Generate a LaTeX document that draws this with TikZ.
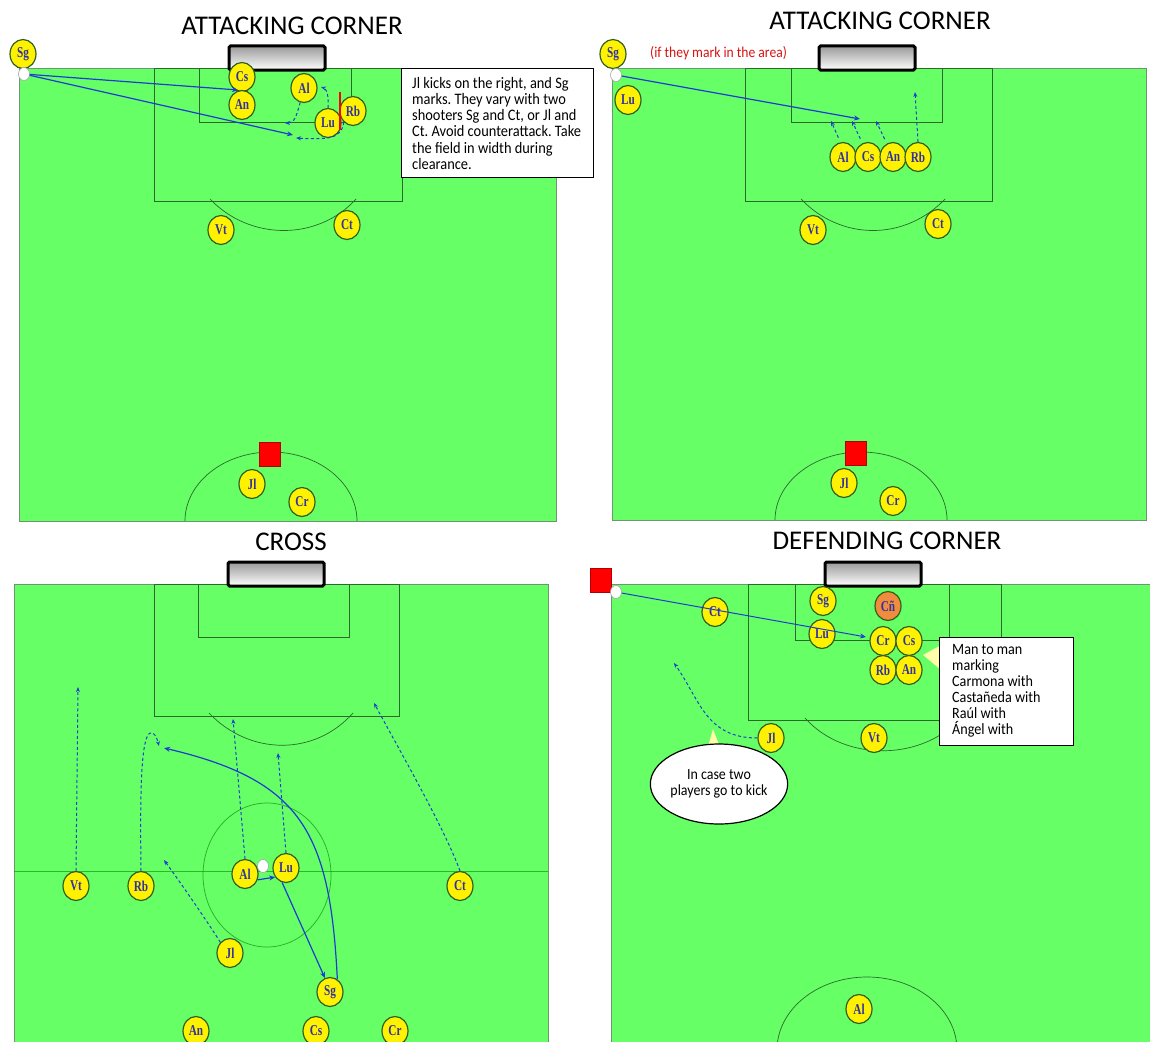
\documentclass[tikz,border=0pt]{standalone}
\usepackage{fontspec}
\setmainfont{Liberation Serif}
\newfontfamily\notefont[FakeStretch=0.9]{Carlito}
\newfontfamily\titlefont{Carlito}
\newfontfamily\playerfont[FakeStretch=0.75]{Liberation Serif}
\usetikzlibrary{shapes.geometric,arrows.meta}
\definecolor{fieldgreen}{RGB}{102,255,102}
\definecolor{fieldedge}{RGB}{110,150,110}
\definecolor{pline}{RGB}{45,105,45}
\definecolor{pborder}{RGB}{50,95,30}
\definecolor{ptext}{RGB}{50,50,160}
\definecolor{arrowblue}{RGB}{30,60,210}
\definecolor{noteyellow}{RGB}{255,255,170}
\definecolor{orangep}{RGB}{240,140,60}
\definecolor{redtxt}{RGB}{215,20,20}
\frenchspacing
\begin{document}
\begin{tikzpicture}[x=1pt,y=-1pt,
 player/.style={ellipse, minimum width=26pt, minimum height=29pt, inner sep=0pt, fill=yellow, draw=pborder, line width=1.2pt, text=ptext, font=\playerfont\fontsize{15}{15}\selectfont\bfseries},
 ball/.style={ellipse, minimum width=11pt, minimum height=13pt, inner sep=0pt, fill=white, draw=gray!70, line width=0.6pt},
 field/.style={fill=fieldgreen, draw=fieldedge, line width=0.9pt},
 pitchline/.style={draw=pline, line width=0.7pt},
 goalbox/.style={rectangle, rounded corners=1.5pt, draw=black, line width=3pt, top color=gray!80, bottom color=white, minimum width=96pt, minimum height=24pt, inner sep=0pt},
 titletext/.style={font=\titlefont\fontsize{27}{27}\selectfont},
 pass/.style={draw=arrowblue, line width=1.2pt, -{Stealth[length=6pt,width=5pt]}},
 run/.style={draw=arrowblue, line width=1pt, dash pattern=on 3pt off 2.5pt, -{Stealth[length=5pt,width=4pt]}},
 redsq/.style={rectangle, fill=red, draw=red!70!black, line width=0.5pt, minimum width=21pt, minimum height=24pt, inner sep=0pt},
 notebox/.style={rectangle, draw=black, line width=1.2pt, fill=white, inner sep=0pt},
 notetext/.style={align=left, inner sep=0pt, font=\notefont\fontsize{16}{16.2}\selectfont}
]
\useasboundingbox (0,0) rectangle (1150,1041);
\fill[white] (0,0) rectangle (1150,1041);

%%%%%%%%%%%%%%%% PANEL 1 : ATTACKING CORNER (top left)
\node[titletext] (t1) at (292,26) {ATTACKING CORNER};
\draw[field] (19,68) rectangle (556,521);
\draw[pitchline] (154,68) rectangle (402,201);
\draw[pitchline] (199,68) rectangle (351,122);
\draw[pitchline] (210,199) .. controls (250,241) and (318,241) .. (356,199);
\draw[pitchline] (185,521) arc[start angle=180, end angle=360, x radius=86, y radius=69];
\node[goalbox] (g1) at (277,58) {};
\node[redsq] (r1) at (270,454) {};

\node[player] (a1Sg) at (23,54) {Sg};
\node[ball] (a1ball) at (24,74) {};
\node[player] (a1Cs) at (242,77) {Cs};
\node[player] (a1An) at (242,105) {An};
\node[player] (a1Al) at (304,88) {Al};
\node[player] (a1Lu) at (328,123) {Lu};
\node[player] (a1Rb) at (353,111) {Rb};
\node[player] (a1Vt) at (221,230) {Vt};
\node[player] (a1Ct) at (347,225) {Ct};
\node[player] (a1Jl) at (252,484) {Jl};
\node[player] (a1Cr) at (302,502) {Cr};

\coordinate (a1p1) at (238,90);
\coordinate (a1p2) at (293,135);
\coordinate (a1d1) at (285,123);
\coordinate (a1d2) at (321,87);
\coordinate (a1d3) at (296,138);
\draw[pass] (a1ball) -- (a1p1);
\draw[pass] (a1ball) -- (a1p2);
\draw[run] (a1Al.-105) .. controls (296,118) and (294,123) .. (a1d1);
\draw[run] (a1Lu.north) .. controls (329,98) and (327,89) .. (a1d2);
\draw[run] (a1Rb.-130) .. controls (342,138) and (330,140) .. (a1d3);
\draw[red, line width=2.5pt] (340,92) -- (340,130);

\node[notebox, minimum width=192pt, minimum height=109pt, anchor=north west] (n1) at (401,68) {};
\node[notetext, anchor=north west] (n1t) at (412,77)
 {Jl kicks on the right, and Sg\\marks. They vary with two\\shooters Sg and Ct, or Jl and\\Ct. Avoid counterattack. Take\\the field in width during\\clearance.};

%%%%%%%%%%%%%%%% PANEL 2 : ATTACKING CORNER (top right)
\node[titletext] (t2) at (880,21) {ATTACKING CORNER};
\draw[field] (612,68) rectangle (1146,520);
\draw[pitchline] (745,68) rectangle (992,201);
\draw[pitchline] (791,68) rectangle (942,122);
\draw[pitchline] (801,199) .. controls (841,241) and (905,241) .. (945,199);
\draw[pitchline] (775,520) arc[start angle=180, end angle=360, x radius=86, y radius=68];
\node[goalbox] (g2) at (867,58) {};
\node[redsq] (r2) at (856,453) {};
\node[notetext, font=\notefont\fontsize{15.1}{16}\selectfont, text=redtxt, anchor=west] (rt2) at (650,53) {(if they mark in the area)};

\node[player] (b2Sg) at (613,54) {Sg};
\node[ball] (b2ball) at (616,75) {};
\node[player] (b2Lu) at (628,100) {Lu};
\node[player] (b2Al) at (843,157) {Al};
\node[player] (b2Cs) at (868,157) {Cs};
\node[player] (b2An) at (893,157) {An};
\node[player] (b2Rb) at (918,157) {Rb};
\node[player] (b2Vt) at (813,230) {Vt};
\node[player] (b2Ct) at (938,224) {Ct};
\node[player] (b2Jl) at (844,483) {Jl};
\node[player] (b2Cr) at (893,501) {Cr};

\coordinate (b2p1) at (860,119);
\coordinate (b2d1) at (831,121);
\coordinate (b2d2) at (852,121);
\coordinate (b2d3) at (876,121);
\coordinate (b2d4) at (915,92);
\draw[pass] (b2ball) -- (b2p1);
\draw[run, shorten <=5pt] (b2Al.100) -- (b2d1);
\draw[run, shorten <=5pt] (b2Cs.112) -- (b2d2);
\draw[run, shorten <=5pt] (b2An.115) -- (b2d3);
\draw[run] (b2Rb.north) -- (b2d4);

%%%%%%%%%%%%%%%% PANEL 3 : CROSS (bottom left)
\node[titletext] (t3) at (291,542) {CROSS};
\draw[field] (14,584) rectangle (548,1045);
\draw[pitchline] (154,584) rectangle (399,716);
\draw[pitchline] (198,584) rectangle (349,637);
\draw[pitchline] (209,713) .. controls (250,756) and (315,756) .. (353,713);
\draw[draw=green!55!black, line width=1pt, opacity=0.6] (14,871) -- (548,871);
\draw[draw=green!45!black, line width=0.7pt, opacity=0.6] (267,875) ellipse[x radius=64, y radius=72];
\node[goalbox] (g3) at (276,574) {};

\node[player] (c3Vt) at (76,886) {Vt};
\node[player] (c3Rb) at (141,886) {Rb};
\node[player] (c3Al) at (245,874) {Al};
\node[ball] (c3ball) at (263,866) {};
\node[player] (c3Lu) at (286,868) {Lu};
\node[player] (c3Ct) at (460,886) {Ct};
\node[player] (c3Jl) at (230,953) {Jl};
\node[player] (c3Sg) at (330,992) {Sg};
\node[player] (c3An) at (196,1031) {An};
\node[player] (c3Cs) at (316,1031) {Cs};
\node[player] (c3Cr) at (395,1031) {Cr};

\coordinate (c3d1) at (78,687);
\coordinate (c3d2) at (159,746);
\coordinate (c3d3) at (233,719);
\coordinate (c3d4) at (278,753);
\coordinate (c3d5) at (374,703);
\coordinate (c3d6) at (164,860);
\coordinate (c3p1) at (164,748);
\draw[run] (c3Vt.north) -- (c3d1);
\draw[run] (c3Rb.north) .. controls (140,790) and (141,738) .. (150,733) .. controls (154,731) and (157,738) .. (c3d2);
\draw[run] (c3Al.north) -- (c3d3);
\draw[run] (c3Lu.north) -- (c3d4);
\draw[run] (c3Ct.north) .. controls (445,830) and (405,760) .. (c3d5);
\draw[run] (c3Jl.north west) .. controls (205,918) and (180,882) .. (c3d6);
\draw[pass] (c3Al.-25) -- (c3Lu.-140);
\draw[pass] (c3Lu.-105) -- (c3Sg.110);
\draw[pass] (c3Sg.60) .. controls (330,830) and (300,780) .. (c3p1);

%%%%%%%%%%%%%%%% PANEL 4 : DEFENDING CORNER (bottom right)
\node[titletext] (t4) at (887,541) {DEFENDING CORNER};
\draw[field] (611,584) rectangle (1155,1045);
\draw[pitchline] (748,584) rectangle (1001,720);
\draw[pitchline] (795,584) rectangle (949,640);
\draw[pitchline] (805,718) .. controls (845,763) and (925,761) .. (962,716);
\draw[pitchline] (867,1050) ellipse[x radius=90, y radius=73];
\node[goalbox] (g4) at (873,574) {};
\node[redsq] (r4) at (601,580) {};

\node[ball] (d4ball) at (616,592) {};
\node[player] (d4Ct) at (715,612) {Ct};
\node[player] (d4Sg) at (823,601) {Sg};
\node[player, fill=orangep] (d4Cn) at (888,606) {Cñ};
\node[player] (d4Lu) at (822,634) {Lu};
\node[player] (d4Cr) at (883,641) {Cr};
\node[player] (d4Cs) at (909,641) {Cs};
\node[player] (d4Rb) at (883,670) {Rb};
\node[player] (d4An) at (909,670) {An};
\node[player] (d4Jl) at (771,738) {Jl};
\node[player] (d4Vt) at (874,738) {Vt};
\node[player] (d4Al) at (859,1009) {Al};

\coordinate (d4p1) at (866,637);
\coordinate (d4d1) at (674,663);
\draw[pass, line width=1pt] (d4ball) -- (d4p1);
\draw[run] (d4Jl.west) .. controls (706,738) and (700,700) .. (d4d1);

% speech bubble
\fill[noteyellow] (713,729) -- (707,750) -- (721,750) -- cycle;
\node[ellipse, draw=black, line width=1.2pt, fill=white, minimum width=129pt, minimum height=80pt, inner sep=0pt, align=center, font=\notefont\fontsize{15.5}{16.2}\selectfont] (bub) at (719,784) {In case two\\players go to kick};

% marking note
\fill[noteyellow] (923,655) -- (941,645) -- (941,670) -- cycle;
\node[notebox, minimum width=134pt, minimum height=108pt, anchor=north west] (n4) at (939,637) {};
\node[notetext, font=\notefont\fontsize{15.7}{16}\selectfont, anchor=north west] (n4t) at (952,644)
 {Man to man\\marking\\Carmona with\\Castañeda with\\Raúl with\\Ángel with};
\end{tikzpicture}
\end{document}
